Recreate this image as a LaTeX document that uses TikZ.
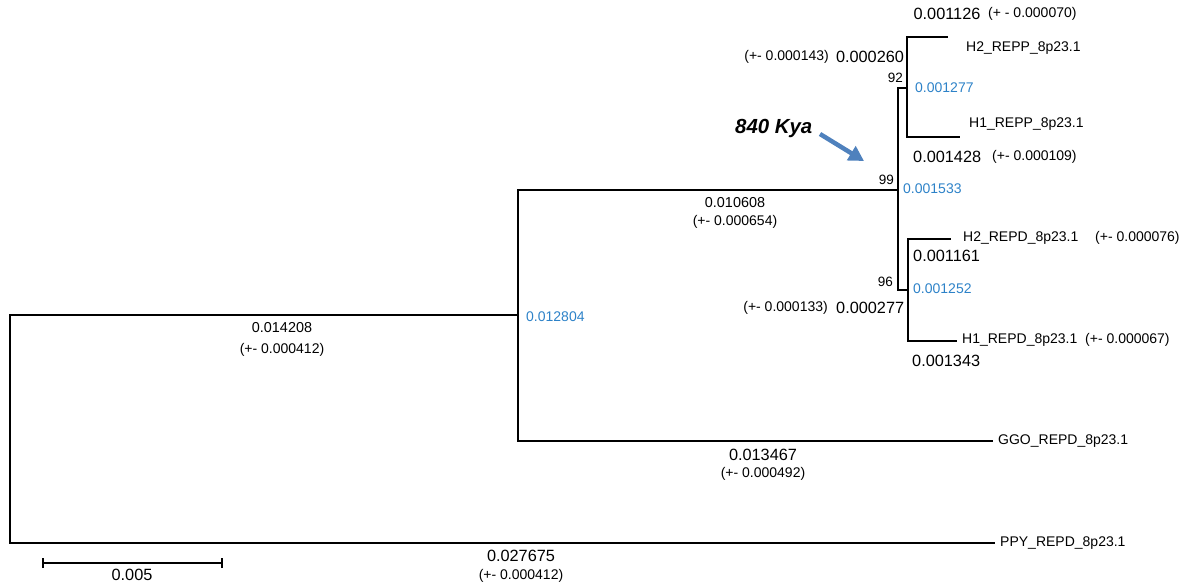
\documentclass[tikz,border=0pt]{standalone}
\usepackage{fontspec}
\setmainfont{Liberation Sans}
\usetikzlibrary{arrows.meta,positioning}
\definecolor{htblue}{RGB}{45,130,200}
\definecolor{arrowblue}{RGB}{79,129,189}
\tikzset{
  branch/.style={line width=1.7pt},
  taxon/.style={anchor=west,inner sep=0pt,font=\fontsize{14}{16}\selectfont},
  blen/.style={inner sep=0pt,font=\fontsize{16.3}{18}\selectfont},
  blensm/.style={inner sep=0pt,font=\fontsize{14.4}{16}\selectfont},
  bse/.style={inner sep=0pt,font=\fontsize{14}{16}\selectfont},
  height/.style={anchor=west,inner sep=0pt,text=htblue,font=\fontsize{14}{16}\selectfont},
  support/.style={anchor=east,inner sep=0pt,font=\fontsize{13.5}{15}\selectfont},
}

\begin{document}
\begin{tikzpicture}[x=1pt,y=-1pt]
  \useasboundingbox (0,0) rectangle (1183,586);
  % tree
  \coordinate (root) at (10,429);
  \coordinate (n1) at (518,315);
  \coordinate (n2) at (898,190);
  \coordinate (n3) at (907,88);
  \coordinate (n4) at (908,290);
  \coordinate (tH2P) at (948,37);
  \coordinate (tH1P) at (960,137);
  \coordinate (tH2D) at (951,239);
  \coordinate (tH1D) at (957,341);
  \coordinate (tGGO) at (993,441);
  \coordinate (tPPY) at (995,543);
  \draw[branch] (root) |- (n1);
  \draw[branch] (root) |- (tPPY);
  \draw[branch] (n1) |- (n2);
  \draw[branch] (n1) |- (tGGO);
  \draw[branch] (n2) |- (n3);
  \draw[branch] (n2) |- (n4);
  \draw[branch] (n3) |- (tH2P);
  \draw[branch] (n3) |- (tH1P);
  \draw[branch] (n4) |- (tH2D);
  \draw[branch] (n4) |- (tH1D);

  % taxa
  \node[taxon] (H2P) at (966,48) {H2\_REPP\_8p23.1};
  \node[taxon] (H1P) at (969,124) {H1\_REPP\_8p23.1};
  \node[taxon] (H2D) at (963,238) {H2\_REPD\_8p23.1};
  \node[taxon] (H1D) at (962,340) {H1\_REPD\_8p23.1};
  \node[taxon] (GGO) at (998,441) {GGO\_REPD\_8p23.1};
  \node[taxon] (PPY) at (1000,543) {PPY\_REPD\_8p23.1};

  % branch lengths
  \node[blen] (lH2P) at (947,14) {0.001126};
  \node[bse,anchor=west] (eH2P) at (988,14) {(+ - 0.000070)};
  \node[bse,anchor=east] (en3) at (829,57) {(+- 0.000143)};
  \node[blen] (ln3) at (870,57) {0.000260};
  \node[blen,anchor=west] (lH1P) at (913,157) {0.001428};
  \node[bse,anchor=west] (eH1P) at (992,157) {(+- 0.000109)};
  \node[blensm] (ln2) at (735,203) {0.010608};
  \node[bse] (en2) at (735,222) {(+- 0.000654)};
  \node[bse,anchor=west] (eH2D) at (1095,238) {(+- 0.000076)};
  \node[blen,anchor=west] (lH2D) at (913,256) {0.001161};
  \node[bse,anchor=east] (en4) at (828,308) {(+- 0.000133)};
  \node[blen,anchor=west] (ln4) at (836,308) {0.000277};
  \node[bse,anchor=west] (eH1D) at (1085,340) {(+- 0.000067)};
  \node[blen,anchor=west] (lH1D) at (912,361) {0.001343};
  \node[blensm] (ln1) at (282,328) {0.014208};
  \node[bse] (en1) at (282,350) {(+- 0.000412)};
  \node[blen] (lGGO) at (763,455) {0.013467};
  \node[bse] (eGGO) at (763,474) {(+- 0.000492)};
  \node[blen] (lPPY) at (521,556) {0.027675};
  \node[bse] (ePPY) at (521,576) {(+- 0.000412)};

  % node heights and support
  \node[height] (hn3) at (915,88) {0.001277};
  \node[height] (hn2) at (903,189) {0.001533};
  \node[height] (hn4) at (913,289) {0.001252};
  \node[height] (hn1) at (526,317) {0.012804};
  \node[support] (bs92) at (903,78) {92};
  \node[support] (bs99) at (894,180) {99};
  \node[support] (bs96) at (893,282) {96};

  % split date
  \node[anchor=west,inner sep=0pt,font=\fontsize{20.4}{22}\selectfont\bfseries\itshape] (kya) at (735,128) {840 Kya};
  \coordinate (a0) at (820,134);
  \coordinate (a1) at (864,161);
  \draw[arrowblue,line width=4.5pt,-{Triangle[length=15pt,width=16pt]}] (a0) -- (a1);

  % scale bar
  \coordinate (sb0) at (43,563);
  \coordinate (sb1) at (222,563);
  \draw[branch] (sb0) -- (sb1);
  \draw[branch] ([yshift=-5pt]sb0) -- ([yshift=5pt]sb0);
  \draw[branch] ([yshift=-5pt]sb1) -- ([yshift=5pt]sb1);
  \node[blen] (sbl) at (132,575) {0.005};
\end{tikzpicture}
\end{document}
